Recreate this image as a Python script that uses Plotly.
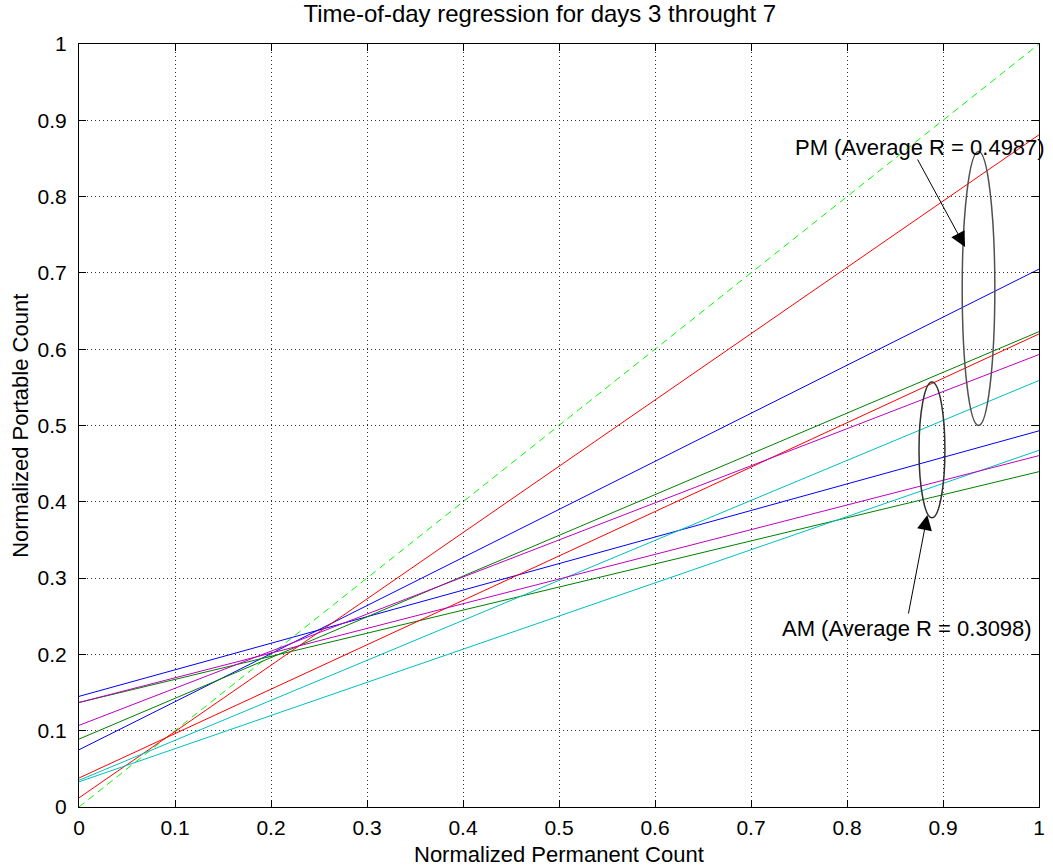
import plotly.graph_objects as go

# Regression lines evaluated at the ends of the normalized range
x_ends = [0.0, 1.0]

line_colors = ["#0000FF", "#008000", "#FF0000", "#00BFBF", "#BF00BF"]

# AM fits: value at x=0 and at x=1
am_start = [0.145, 0.137, 0.038, 0.033, 0.137]
am_end = [0.493, 0.4395, 0.620, 0.4675, 0.4605]

# PM fits: value at x=0 and at x=1
pm_start = [0.075, 0.089, 0.012, 0.035, 0.107]
pm_end = [0.705, 0.623, 0.881, 0.559, 0.593]

# Reference y = x
ref_y = [0.0, 1.0]

tick_vals = [0, 0.1, 0.2, 0.3, 0.4, 0.5, 0.6, 0.7, 0.8, 0.9, 1]
tick_text = ["0", "0.1", "0.2", "0.3", "0.4", "0.5", "0.6", "0.7", "0.8", "0.9", "1"]

FONT = "Liberation Sans, Arial, Helvetica, sans-serif"
text_font = dict(family=FONT, size=22, color="black")
tick_font = dict(family=FONT, size=21, color="black")
title_font = dict(family=FONT, size=24, color="black")

fig = go.Figure()

fig.add_trace(go.Scatter(
    x=x_ends, y=ref_y, mode="lines",
    line=dict(color="#00FF00", width=1, dash="7px,5px"),
    showlegend=False, hoverinfo="skip"))

for c, a0, a1, p0, p1 in zip(line_colors, am_start, am_end, pm_start, pm_end):
    fig.add_trace(go.Scatter(x=x_ends, y=[a0, a1], mode="lines",
                             line=dict(color=c, width=1),
                             showlegend=False, hoverinfo="skip"))
    fig.add_trace(go.Scatter(x=x_ends, y=[p0, p1], mode="lines",
                             line=dict(color=c, width=1),
                             showlegend=False, hoverinfo="skip"))

# Ellipses grouping the PM and AM fits
fig.add_shape(type="circle", xref="x", yref="y",
              x0=0.920, x1=0.954, y0=0.500, y1=0.859,
              line=dict(color="#505050", width=1.5))
fig.add_shape(type="circle", xref="x", yref="y",
              x0=0.875, x1=0.902, y0=0.379, y1=0.557,
              line=dict(color="#303030", width=1.5))

# Callout labels
fig.add_annotation(x=0.876, y=0.864, xref="x", yref="y",
                   text="PM (Average R = 0.4987)", showarrow=False,
                   font=text_font)
fig.add_annotation(x=0.863, y=0.2346, xref="x", yref="y",
                   text="AM (Average R = 0.3098)", showarrow=False,
                   font=text_font)

# Arrows from the labels to the ellipses
fig.add_annotation(x=0.923, y=0.734, ax=0.8727, ay=0.8506,
                   xref="x", yref="y", axref="x", ayref="y",
                   text="", showarrow=True, arrowhead=2, arrowsize=3,
                   arrowwidth=1, arrowcolor="black")
fig.add_annotation(x=0.8837, y=0.3827, ax=0.8637, ay=0.2516,
                   xref="x", yref="y", axref="x", ayref="y",
                   text="", showarrow=True, arrowhead=2, arrowsize=3,
                   arrowwidth=1, arrowcolor="black")

# Axis titles
fig.add_annotation(x=0.5, y=-0.0616, xref="paper", yref="paper",
                   text="Normalized Permanent Count", showarrow=False,
                   font=text_font, yanchor="middle")
fig.add_annotation(x=-0.0611, y=0.5, xref="paper", yref="paper",
                   text="Normalized Portable Count", showarrow=False,
                   font=text_font, textangle=-90, xanchor="center")

axis_common = dict(
    range=[0, 1], tickvals=tick_vals, ticktext=tick_text,
    showgrid=True, gridcolor="#333333", griddash="1px,3px", gridwidth=1,
    showline=True, linecolor="black", linewidth=1, mirror="ticks",
    ticks="inside", ticklen=7, tickcolor="black",
    zeroline=False,
    tickfont=tick_font,
)

fig.update_xaxes(**axis_common, ticklabelstandoff=2)
fig.update_yaxes(**axis_common, ticklabelstandoff=7)

fig.update_layout(
    width=1053, height=867,
    margin=dict(l=79, r=8, t=44, b=60),
    paper_bgcolor="white", plot_bgcolor="white",
    title=dict(text="Time-of-day regression for days 3 throught 7",
               x=0.480, xref="paper", xanchor="center",
               y=1 - 14 / 867, yref="container", yanchor="middle",
               font=title_font),
)

fig.write_html("out.html")
